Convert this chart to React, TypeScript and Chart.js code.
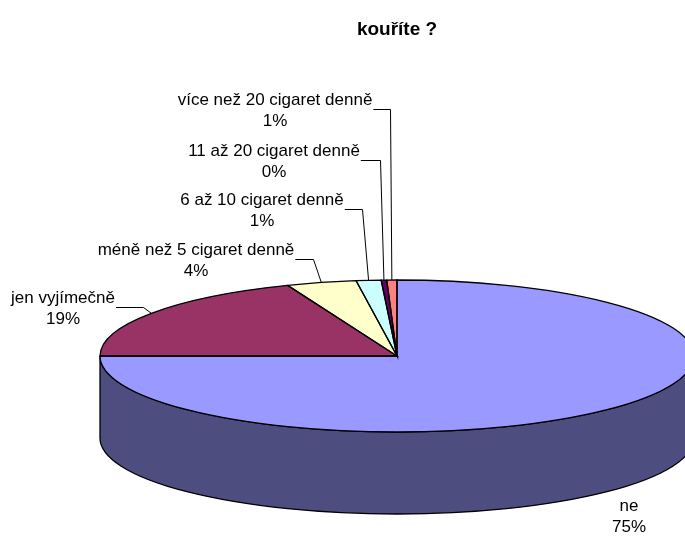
import React, { useEffect, useRef } from 'react';
import { Chart, registerables } from 'chart.js';

Chart.register(...registerables);

const categories = [
  'ne',
  'jen vyjímečně',
  'méně než 5 cigaret denně',
  '6 až 10 cigaret denně',
  '11 až 20 cigaret denně',
  'více než 20 cigaret denně',
];
const shares = [75, 19, 3.8, 1.35, 0.3, 0.55];
const sliceColors = ['#9999FF', '#993366', '#FFFFCC', '#CCFFFF', '#660066', '#FF8080'];
const titleText = 'kouříte ?';

// layout of the data labels: centre of first text line, elbow of leader line
const labelLayout = [
  { x: 629, y: 506, elbowX: null as number | null },
  { x: 63, y: 298, elbowX: 143 },
  { x: 196, y: 250, elbowX: 313 },
  { x: 262, y: 200, elbowX: 362 },
  { x: 274, y: 151, elbowX: 380 },
  { x: 275, y: 100, elbowX: 390 },
];

const FONT = '"Liberation Sans", Arial, sans-serif';

function darken(hex: string, f: number) {
  const n = parseInt(hex.slice(1), 16);
  const r = Math.round(((n >> 16) & 255) * f);
  const g = Math.round(((n >> 8) & 255) * f);
  const b = Math.round((n & 255) * f);
  return `rgb(${r},${g},${b})`;
}

const pie3d = {
  id: 'pie3d',
  beforeDatasetsDraw(chart: any, _args: any, opts: any) {
    const meta = chart.getDatasetMeta(0);
    const arcs = meta.data;
    chart.$pie3dSaved = false;
    if (!arcs.length) return;
    const p0 = arcs[0].getProps(['x', 'y', 'outerRadius'], true);
    const { cx, cy, rx, ry, depth } = opts;
    const ctx = chart.ctx;
    ctx.save();
    ctx.lineWidth = 1.3;
    ctx.strokeStyle = '#000';
    arcs.forEach((arc: any, i: number) => {
      const { startAngle: s, endAngle: e } = arc.getProps(['startAngle', 'endAngle'], true);
      for (let k = -1; k <= 1; k++) {
        const a = Math.max(s, 2 * Math.PI * k);
        const b = Math.min(e, Math.PI + 2 * Math.PI * k);
        if (b > a) {
          ctx.beginPath();
          ctx.ellipse(cx, cy, rx, ry, 0, a, b);
          ctx.lineTo(cx + rx * Math.cos(b), cy + ry * Math.sin(b) + depth);
          ctx.ellipse(cx, cy + depth, rx, ry, 0, b, a, true);
          ctx.closePath();
          ctx.fillStyle = darken(sliceColors[i % sliceColors.length], 0.5);
          ctx.fill();
          ctx.stroke();
        }
      }
    });
    ctx.restore();
    ctx.save();
    ctx.translate(cx, cy);
    ctx.scale(rx / p0.outerRadius, ry / p0.outerRadius);
    ctx.translate(-p0.x, -p0.y);
    chart.$pie3dSaved = true;
  },
  afterDatasetsDraw(chart: any, _args: any, opts: any) {
    if (!chart.$pie3dSaved) return;
    const ctx = chart.ctx;
    ctx.restore();
    const { cx, cy, rx, ry } = opts;
    const arcs = chart.getDatasetMeta(0).data;
    const values = chart.data.datasets[0].data as number[];
    const total = values.reduce((t, v) => t + v, 0);
    ctx.save();
    ctx.lineWidth = 1.3;
    ctx.strokeStyle = '#000';
    // top face outlines
    arcs.forEach((arc: any) => {
      const { startAngle: s, endAngle: e } = arc.getProps(['startAngle', 'endAngle'], true);
      ctx.beginPath();
      ctx.moveTo(cx, cy);
      ctx.lineTo(cx + rx * Math.cos(s), cy + ry * Math.sin(s));
      ctx.ellipse(cx, cy, rx, ry, 0, s, e);
      ctx.closePath();
      ctx.stroke();
    });
    // labels
    ctx.lineWidth = 1;
    ctx.font = `17px ${FONT}`;
    ctx.fillStyle = '#000';
    ctx.textAlign = 'center';
    ctx.textBaseline = 'middle';
    arcs.forEach((arc: any, i: number) => {
      const L = labelLayout[i];
      const label = chart.data.labels[i];
      const pct = Math.round((values[i] / total) * 100) + '%';
      ctx.fillText(label, L.x, L.y);
      ctx.fillText(pct, L.x, L.y + 21);
      if (L.elbowX != null) {
        const { startAngle: s, endAngle: e } = arc.getProps(['startAngle', 'endAngle'], true);
        const m = (s + e) / 2;
        const ax = cx + rx * Math.cos(m);
        const ay = cy + ry * Math.sin(m);
        const w = ctx.measureText(label).width;
        const ly = Math.round(L.y + 9) + 0.5;
        ctx.beginPath();
        ctx.moveTo(L.x + w / 2 + 1, ly);
        ctx.lineTo(L.elbowX + 0.5, ly);
        ctx.lineTo(ax, ay);
        ctx.stroke();
      }
    });
    ctx.restore();
  },
};

export default function App() {
  const ref = useRef<HTMLCanvasElement>(null);
  useEffect(() => {
    if (!ref.current) return;
    const chart = new Chart(ref.current, {
      type: 'pie',
      data: {
        labels: categories,
        datasets: [
          {
            data: shares,
            backgroundColor: sliceColors,
            borderWidth: 0,
            clip: false,
          } as any,
        ],
      },
      options: {
        responsive: false,
        animation: false,
        devicePixelRatio: 1,
        events: [],
        layout: { padding: { left: 109 } },
        plugins: {
          legend: { display: false },
          tooltip: { enabled: false },
          title: {
            display: true,
            text: titleText,
            color: '#000',
            font: { family: FONT, size: 19, weight: 'bold' },
            padding: { top: 18, bottom: 10 },
          },
          pie3d: { cx: 397, cy: 356, rx: 297, ry: 76, depth: 82 },
        } as any,
      },
      plugins: [pie3d],
    });
    return () => chart.destroy();
  }, []);
  return (
    <div style={{ position: 'absolute', left: 0, top: 0, width: 685, height: 536, background: '#fff' }}>
      <canvas ref={ref} width={685} height={536} />
    </div>
  );
}
